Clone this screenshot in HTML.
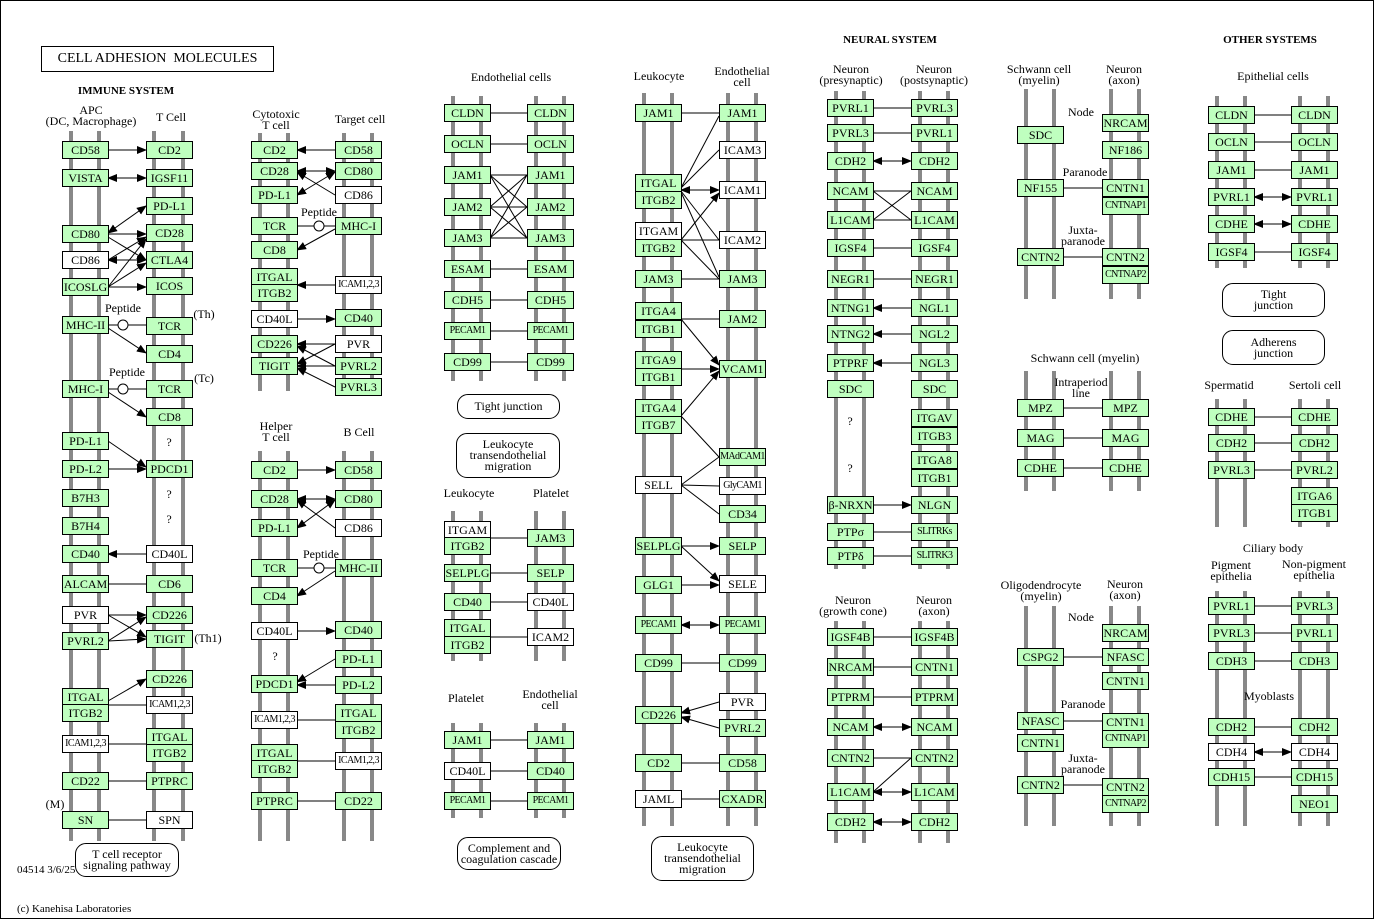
<!DOCTYPE html>
<html><head><meta charset="utf-8"><style>
body{margin:0;background:#fff}
#c{position:relative;width:1372px;height:917px;border:1px solid #000;overflow:hidden;font-family:"Liberation Serif",serif;color:#000}
svg{position:absolute;left:0;top:0}
.b{position:absolute;box-sizing:border-box;width:47px;height:18px;border:1px solid #000;background:#bfffbf;font-size:12px;line-height:16px;text-align:center;white-space:nowrap;overflow:hidden}
.w{background:#fff}
.s{font-size:10px;letter-spacing:-0.6px}
.t{position:absolute;font-size:12px;text-align:center;line-height:11px;white-space:nowrap;transform:translateX(-50%)}
.h{position:absolute;font-size:11px;font-weight:bold;white-space:nowrap;transform:translateX(-50%)}
.r{position:absolute;box-sizing:border-box;border:1px solid #000;border-radius:11px;background:#fff;font-size:12px;line-height:11px;text-align:center;display:flex;align-items:center;justify-content:center}
</style></head><body><div id="c">
<svg width="1374" height="919">
<defs><marker id="a" markerWidth="10" markerHeight="8" refX="9" refY="4" orient="auto" markerUnits="userSpaceOnUse"><path d="M0,0L10,4L0,8z"/></marker>
<marker id="s" markerWidth="10" markerHeight="8" refX="1" refY="4" orient="auto" markerUnits="userSpaceOnUse"><path d="M10,0L0,4L10,8z"/></marker></defs>
<g fill="#888">
<rect x="68" y="130" width="4" height="710"/><rect x="96" y="130" width="4" height="710"/><rect x="151" y="130" width="4" height="710"/><rect x="180" y="130" width="4" height="710"/>
<rect x="257" y="132" width="4" height="258"/><rect x="285" y="132" width="4" height="258"/><rect x="341" y="132" width="4" height="258"/><rect x="369" y="132" width="4" height="258"/>
<rect x="257" y="450" width="4" height="390"/><rect x="285" y="450" width="4" height="390"/><rect x="341" y="450" width="4" height="390"/><rect x="369" y="450" width="4" height="390"/>
<rect x="450" y="95" width="4" height="285"/><rect x="478" y="95" width="4" height="285"/><rect x="533" y="95" width="4" height="285"/><rect x="561" y="95" width="4" height="285"/>
<rect x="450" y="510" width="4" height="150"/><rect x="478" y="510" width="4" height="150"/><rect x="533" y="510" width="4" height="150"/><rect x="561" y="510" width="4" height="150"/>
<rect x="450" y="722" width="4" height="95"/><rect x="478" y="722" width="4" height="95"/><rect x="533" y="722" width="4" height="95"/><rect x="561" y="722" width="4" height="95"/>
<rect x="641" y="92" width="4" height="733"/><rect x="669" y="92" width="4" height="733"/><rect x="725" y="92" width="4" height="733"/><rect x="753" y="92" width="4" height="733"/>
<rect x="833" y="90" width="4" height="478"/><rect x="861" y="90" width="4" height="478"/><rect x="917" y="90" width="4" height="478"/><rect x="945" y="90" width="4" height="478"/>
<rect x="833" y="620" width="4" height="222"/><rect x="861" y="620" width="4" height="222"/><rect x="917" y="620" width="4" height="222"/><rect x="945" y="620" width="4" height="222"/>
<rect x="1023" y="88" width="4" height="210"/><rect x="1051" y="88" width="4" height="210"/><rect x="1108" y="88" width="4" height="210"/><rect x="1136" y="88" width="4" height="210"/>
<rect x="1023" y="370" width="4" height="120"/><rect x="1051" y="370" width="4" height="120"/><rect x="1108" y="370" width="4" height="120"/><rect x="1136" y="370" width="4" height="120"/>
<rect x="1023" y="605" width="4" height="220"/><rect x="1051" y="605" width="4" height="220"/><rect x="1108" y="605" width="4" height="220"/><rect x="1136" y="605" width="4" height="220"/>
<rect x="1214" y="95" width="4" height="172"/><rect x="1242" y="95" width="4" height="172"/><rect x="1297" y="95" width="4" height="172"/><rect x="1325" y="95" width="4" height="172"/>
<rect x="1214" y="398" width="4" height="128"/><rect x="1242" y="398" width="4" height="128"/><rect x="1297" y="398" width="4" height="128"/><rect x="1325" y="398" width="4" height="128"/>
<rect x="1214" y="590" width="4" height="235"/><rect x="1242" y="590" width="4" height="235"/><rect x="1297" y="590" width="4" height="235"/><rect x="1325" y="590" width="4" height="235"/>
</g>
<g stroke="#000" stroke-width="1" fill="none">
<!-- A -->
<line x1="107" y1="149" x2="145" y2="149" marker-end="url(#a)"/>
<line x1="107" y1="177" x2="145" y2="177" marker-end="url(#a)" marker-start="url(#s)"/>
<line x1="107" y1="232" x2="145" y2="205" marker-end="url(#a)" marker-start="url(#s)"/>
<line x1="107" y1="233" x2="145" y2="233" marker-end="url(#a)"/>
<line x1="107" y1="236" x2="145" y2="259" marker-end="url(#a)"/>
<line x1="107" y1="259" x2="145" y2="236" marker-end="url(#a)"/>
<line x1="107" y1="259" x2="145" y2="259" marker-end="url(#a)" marker-start="url(#s)"/>
<line x1="107" y1="286" x2="145" y2="238" marker-end="url(#a)"/>
<line x1="107" y1="286" x2="145" y2="262" marker-end="url(#a)"/>
<line x1="107" y1="286" x2="145" y2="286" marker-end="url(#a)"/>
<line x1="107" y1="324" x2="145" y2="324"/><line x1="107" y1="327" x2="145" y2="352" marker-end="url(#a)"/>
<line x1="107" y1="388" x2="145" y2="388"/><line x1="107" y1="391" x2="145" y2="416" marker-end="url(#a)"/>
<line x1="107" y1="440" x2="145" y2="466" marker-end="url(#a)"/><line x1="107" y1="468" x2="145" y2="468" marker-end="url(#a)"/>
<line x1="145" y1="553" x2="107" y2="553" marker-end="url(#a)"/>
<line x1="107" y1="583" x2="145" y2="583"/>
<line x1="107" y1="614" x2="145" y2="614" marker-end="url(#a)"/><line x1="107" y1="614" x2="145" y2="636" marker-end="url(#a)"/>
<line x1="107" y1="640" x2="145" y2="616" marker-end="url(#a)"/><line x1="107" y1="640" x2="145" y2="638" marker-end="url(#a)"/>
<line x1="107" y1="700" x2="145" y2="678" marker-end="url(#a)"/><line x1="107" y1="704" x2="145" y2="704"/>
<line x1="107" y1="743" x2="145" y2="743"/><line x1="107" y1="780" x2="145" y2="780"/><line x1="107" y1="819" x2="145" y2="819"/>
<!-- B -->
<line x1="334" y1="149" x2="296" y2="149" marker-end="url(#a)"/>
<line x1="296" y1="170" x2="334" y2="170" marker-end="url(#a)" marker-start="url(#s)"/>
<line x1="296" y1="194" x2="334" y2="171" marker-end="url(#a)" marker-start="url(#s)"/>
<line x1="296" y1="171" x2="334" y2="194" marker-start="url(#s)"/>
<line x1="296" y1="225" x2="334" y2="225"/><line x1="334" y1="228" x2="296" y2="249" marker-end="url(#a)"/>
<line x1="334" y1="284" x2="296" y2="284" marker-end="url(#a)"/>
<line x1="296" y1="318" x2="334" y2="318" marker-end="url(#a)"/>
<line x1="334" y1="343" x2="296" y2="343" marker-end="url(#a)"/><line x1="334" y1="343" x2="296" y2="363" marker-end="url(#a)"/>
<line x1="334" y1="365" x2="296" y2="345" marker-end="url(#a)"/><line x1="334" y1="365" x2="296" y2="365" marker-end="url(#a)"/><line x1="334" y1="386" x2="296" y2="367" marker-end="url(#a)"/>
<line x1="296" y1="469" x2="334" y2="469" marker-end="url(#a)"/>
<line x1="296" y1="498" x2="334" y2="498" marker-end="url(#a)" marker-start="url(#s)"/>
<line x1="296" y1="527" x2="334" y2="499" marker-end="url(#a)" marker-start="url(#s)"/>
<line x1="296" y1="499" x2="334" y2="527" marker-start="url(#s)"/>
<line x1="296" y1="567" x2="334" y2="567"/><line x1="334" y1="570" x2="296" y2="595" marker-end="url(#a)"/>
<line x1="296" y1="630" x2="334" y2="630" marker-end="url(#a)"/>
<line x1="334" y1="658" x2="296" y2="681" marker-end="url(#a)"/><line x1="334" y1="684" x2="296" y2="684" marker-end="url(#a)"/>
<line x1="296" y1="719" x2="334" y2="719"/><line x1="296" y1="760" x2="334" y2="760"/><line x1="296" y1="800" x2="334" y2="800"/>
<!-- C -->
<line x1="489" y1="112" x2="526" y2="112"/><line x1="489" y1="143" x2="526" y2="143"/>
<line x1="489" y1="174" x2="526" y2="174"/><line x1="489" y1="174" x2="526" y2="206"/><line x1="489" y1="174" x2="526" y2="237"/>
<line x1="489" y1="206" x2="526" y2="174"/><line x1="489" y1="206" x2="526" y2="206"/><line x1="489" y1="206" x2="526" y2="237"/>
<line x1="489" y1="237" x2="526" y2="174"/><line x1="489" y1="237" x2="526" y2="206"/><line x1="489" y1="237" x2="526" y2="237"/>
<line x1="489" y1="268" x2="526" y2="268"/><line x1="489" y1="299" x2="526" y2="299"/><line x1="489" y1="330" x2="526" y2="330"/><line x1="489" y1="361" x2="526" y2="361"/>
<line x1="489" y1="537" x2="526" y2="537"/><line x1="489" y1="572" x2="526" y2="572"/><line x1="489" y1="601" x2="526" y2="601"/><line x1="489" y1="636" x2="526" y2="636"/>
<line x1="489" y1="739" x2="526" y2="739"/><line x1="489" y1="770" x2="526" y2="770"/><line x1="489" y1="800" x2="526" y2="800"/>
<!-- D -->
<line x1="680" y1="112" x2="718" y2="112"/>
<line x1="680" y1="187" x2="718" y2="115"/><line x1="680" y1="187" x2="718" y2="149"/>
<line x1="680" y1="189" x2="718" y2="189" marker-end="url(#a)" marker-start="url(#s)"/>
<line x1="680" y1="190" x2="718" y2="239"/><line x1="680" y1="191" x2="718" y2="276"/>
<line x1="680" y1="239" x2="718" y2="192" marker-end="url(#a)"/><line x1="680" y1="239" x2="718" y2="239"/><line x1="680" y1="239" x2="718" y2="278"/>
<line x1="680" y1="278" x2="718" y2="278"/>
<line x1="680" y1="318" x2="718" y2="318"/><line x1="680" y1="318" x2="718" y2="364" marker-end="url(#a)"/>
<line x1="680" y1="368" x2="718" y2="368" marker-end="url(#a)"/>
<line x1="680" y1="415" x2="718" y2="370" marker-end="url(#a)"/><line x1="680" y1="415" x2="718" y2="456"/>
<line x1="680" y1="484" x2="718" y2="456"/><line x1="680" y1="484" x2="718" y2="485"/><line x1="680" y1="484" x2="718" y2="513"/>
<line x1="680" y1="545" x2="718" y2="545" marker-end="url(#a)"/><line x1="680" y1="545" x2="718" y2="580" marker-end="url(#a)"/>
<line x1="680" y1="584" x2="718" y2="584" marker-end="url(#a)"/>
<line x1="680" y1="624" x2="718" y2="624" marker-end="url(#a)" marker-start="url(#s)"/>
<line x1="680" y1="662" x2="718" y2="662"/>
<line x1="718" y1="701" x2="680" y2="712" marker-end="url(#a)"/><line x1="718" y1="727" x2="680" y2="716" marker-end="url(#a)"/>
<line x1="680" y1="762" x2="718" y2="762"/><line x1="680" y1="798" x2="718" y2="798"/>
<!-- E -->
<line x1="872" y1="107" x2="910" y2="107"/><line x1="872" y1="132" x2="910" y2="132"/>
<line x1="872" y1="160" x2="910" y2="160" marker-end="url(#a)" marker-start="url(#s)"/>
<line x1="872" y1="190" x2="910" y2="190"/><line x1="872" y1="190" x2="910" y2="219"/><line x1="872" y1="219" x2="910" y2="190"/><line x1="872" y1="219" x2="910" y2="219"/>
<line x1="872" y1="247" x2="910" y2="247"/><line x1="872" y1="278" x2="910" y2="278"/>
<line x1="910" y1="307" x2="872" y2="307" marker-end="url(#a)"/><line x1="910" y1="333" x2="872" y2="333" marker-end="url(#a)"/><line x1="910" y1="362" x2="872" y2="362" marker-end="url(#a)"/>
<line x1="872" y1="504" x2="910" y2="504" marker-end="url(#a)"/><line x1="872" y1="531" x2="910" y2="531"/><line x1="872" y1="555" x2="910" y2="555"/>
<line x1="872" y1="636" x2="910" y2="636"/><line x1="872" y1="666" x2="910" y2="666"/><line x1="872" y1="696" x2="910" y2="696"/>
<line x1="872" y1="726" x2="910" y2="726" marker-end="url(#a)" marker-start="url(#s)"/>
<line x1="872" y1="757" x2="910" y2="757"/>
<line x1="872" y1="791" x2="910" y2="791" marker-end="url(#a)" marker-start="url(#s)"/><line x1="872" y1="791" x2="910" y2="757"/>
<line x1="872" y1="821" x2="910" y2="821" marker-end="url(#a)" marker-start="url(#s)"/>
<!-- F -->
<line x1="1062" y1="187" x2="1101" y2="187"/><line x1="1062" y1="256" x2="1101" y2="256"/>
<line x1="1062" y1="407" x2="1101" y2="407"/><line x1="1062" y1="437" x2="1101" y2="437"/><line x1="1062" y1="467" x2="1101" y2="467"/>
<line x1="1062" y1="656" x2="1101" y2="656"/><line x1="1062" y1="720" x2="1101" y2="720"/><line x1="1062" y1="784" x2="1101" y2="784"/>
<!-- G -->
<line x1="1253" y1="114" x2="1290" y2="114"/><line x1="1253" y1="141" x2="1290" y2="141"/><line x1="1253" y1="169" x2="1290" y2="169"/>
<line x1="1253" y1="196" x2="1290" y2="196" marker-end="url(#a)" marker-start="url(#s)"/>
<line x1="1253" y1="223" x2="1290" y2="223" marker-end="url(#a)" marker-start="url(#s)"/>
<line x1="1253" y1="251" x2="1290" y2="251"/>
<line x1="1253" y1="416" x2="1290" y2="416"/><line x1="1253" y1="442" x2="1290" y2="442"/><line x1="1253" y1="469" x2="1290" y2="469"/>
<line x1="1253" y1="605" x2="1290" y2="605"/><line x1="1253" y1="632" x2="1290" y2="632"/><line x1="1253" y1="660" x2="1290" y2="660"/>
<line x1="1253" y1="726" x2="1290" y2="726"/><line x1="1253" y1="751" x2="1290" y2="751" marker-end="url(#a)" marker-start="url(#s)"/><line x1="1253" y1="776" x2="1290" y2="776"/>
</g>
<g fill="#fff" stroke="#000"><circle cx="122" cy="324" r="5"/><circle cx="122" cy="388" r="5"/><circle cx="318" cy="225" r="5"/><circle cx="318" cy="567" r="5"/></g>
</svg>
<div style="position:absolute;left:40px;top:45px;width:233px;height:26px;box-sizing:border-box;border:1px solid #000;font-size:14px;line-height:24px;text-align:center">CELL ADHESION&nbsp; MOLECULES</div>
<div class="h" style="left:125px;top:84px">IMMUNE SYSTEM</div>
<div class="h" style="left:889px;top:33px">NEURAL SYSTEM</div>
<div class="h" style="left:1269px;top:33px">OTHER SYSTEMS</div>
<div class="t" style="left:90px;top:104px">APC<br>(DC, Macrophage)</div>
<div class="t" style="left:170px;top:111px">T Cell</div>
<div class="t" style="left:122px;top:302px">Peptide</div><div class="t" style="left:203px;top:308px">(Th)</div>
<div class="t" style="left:126px;top:366px">Peptide</div><div class="t" style="left:203px;top:372px">(Tc)</div>
<div class="t" style="left:168px;top:436px">?</div><div class="t" style="left:168px;top:488px">?</div><div class="t" style="left:168px;top:513px">?</div>
<div class="t" style="left:207px;top:632px">(Th1)</div><div class="t" style="left:54px;top:798px">(M)</div>
<div class="r" style="left:74px;top:842px;width:104px;height:34px">T cell receptor<br>signaling pathway</div>
<div class="t" style="left:275px;top:108px">Cytotoxic<br>T cell</div><div class="t" style="left:359px;top:113px">Target cell</div>
<div class="t" style="left:318px;top:206px">Peptide</div>
<div class="t" style="left:275px;top:420px">Helper<br>T cell</div><div class="t" style="left:358px;top:426px">B Cell</div>
<div class="t" style="left:320px;top:548px">Peptide</div><div class="t" style="left:274px;top:650px">?</div>
<div class="t" style="left:510px;top:71px">Endothelial cells</div>
<div class="r" style="left:456px;top:393px;width:103px;height:25px">Tight junction</div>
<div class="r" style="left:455px;top:432px;width:104px;height:45px">Leukocyte<br>transendothelial<br>migration</div>
<div class="t" style="left:468px;top:487px">Leukocyte</div><div class="t" style="left:550px;top:487px">Platelet</div>
<div class="t" style="left:465px;top:692px">Platelet</div><div class="t" style="left:549px;top:688px">Endothelial<br>cell</div>
<div class="r" style="left:456px;top:836px;width:104px;height:33px">Complement and<br>coagulation cascade</div>
<div class="t" style="left:658px;top:70px">Leukocyte</div><div class="t" style="left:741px;top:65px">Endothelial<br>cell</div>
<div class="r" style="left:650px;top:835px;width:103px;height:45px">Leukocyte<br>transendothelial<br>migration</div>
<div class="t" style="left:850px;top:63px">Neuron<br>(presynaptic)</div><div class="t" style="left:933px;top:63px">Neuron<br>(postsynaptic)</div>
<div class="t" style="left:849px;top:415px">?</div><div class="t" style="left:849px;top:462px">?</div>
<div class="t" style="left:852px;top:594px">Neuron<br>(growth cone)</div><div class="t" style="left:933px;top:594px">Neuron<br>(axon)</div>
<div class="t" style="left:1038px;top:63px">Schwann cell<br>(myelin)</div><div class="t" style="left:1123px;top:63px">Neuron<br>(axon)</div>
<div class="t" style="left:1080px;top:106px">Node</div><div class="t" style="left:1084px;top:166px">Paranode</div><div class="t" style="left:1082px;top:224px">Juxta-<br>paranode</div>
<div class="t" style="left:1084px;top:352px">Schwann cell (myelin)</div><div class="t" style="left:1080px;top:376px">Intraperiod<br>line</div>
<div class="t" style="left:1040px;top:579px">Oligodendrocyte<br>(myelin)</div><div class="t" style="left:1124px;top:578px">Neuron<br>(axon)</div>
<div class="t" style="left:1080px;top:611px">Node</div><div class="t" style="left:1082px;top:698px">Paranode</div><div class="t" style="left:1082px;top:752px">Juxta-<br>paranode</div>
<div class="t" style="left:1272px;top:70px">Epithelial cells</div>
<div class="r" style="left:1221px;top:282px;width:103px;height:34px">Tight<br>junction</div>
<div class="r" style="left:1221px;top:329px;width:103px;height:35px">Adherens<br>junction</div>
<div class="t" style="left:1228px;top:379px">Spermatid</div><div class="t" style="left:1314px;top:379px">Sertoli cell</div>
<div class="t" style="left:1272px;top:542px">Ciliary body</div><div class="t" style="left:1230px;top:559px">Pigment<br>epithelia</div><div class="t" style="left:1313px;top:558px">Non-pigment<br>epithelia</div>
<div class="t" style="left:1268px;top:690px">Myoblasts</div>
<div style="position:absolute;left:16px;top:864px;font-size:11px;line-height:11px">04514 3/6/25</div>
<div style="position:absolute;left:16px;top:903px;font-size:11px;line-height:11px">(c) Kanehisa Laboratories</div>

<!-- A boxes -->
<div class="b" style="left:61px;top:140px">CD58</div><div class="b" style="left:145px;top:140px">CD2</div>
<div class="b" style="left:61px;top:168px">VISTA</div><div class="b" style="left:145px;top:168px">IGSF11</div>
<div class="b" style="left:145px;top:196px">PD-L1</div>
<div class="b" style="left:61px;top:224px">CD80</div><div class="b" style="left:145px;top:223px">CD28</div>
<div class="b w" style="left:61px;top:250px">CD86</div><div class="b" style="left:145px;top:250px">CTLA4</div>
<div class="b" style="left:61px;top:277px">ICOSLG</div><div class="b" style="left:145px;top:276px">ICOS</div>
<div class="b" style="left:61px;top:315px">MHC-II</div><div class="b" style="left:145px;top:316px">TCR</div>
<div class="b" style="left:145px;top:344px">CD4</div>
<div class="b" style="left:61px;top:379px">MHC-I</div><div class="b" style="left:145px;top:379px">TCR</div>
<div class="b" style="left:145px;top:407px">CD8</div>
<div class="b" style="left:61px;top:431px">PD-L1</div>
<div class="b" style="left:61px;top:459px">PD-L2</div><div class="b" style="left:145px;top:459px">PDCD1</div>
<div class="b" style="left:61px;top:488px">B7H3</div><div class="b" style="left:61px;top:516px">B7H4</div>
<div class="b" style="left:61px;top:544px">CD40</div><div class="b w" style="left:145px;top:544px">CD40L</div>
<div class="b" style="left:61px;top:574px">ALCAM</div><div class="b" style="left:145px;top:574px">CD6</div>
<div class="b w" style="left:61px;top:605px">PVR</div><div class="b" style="left:145px;top:605px">CD226</div>
<div class="b" style="left:61px;top:631px">PVRL2</div><div class="b" style="left:145px;top:629px">TIGIT</div>
<div class="b" style="left:145px;top:669px">CD226</div>
<div class="b" style="left:61px;top:687px">ITGAL</div><div class="b" style="left:61px;top:703px">ITGB2</div><div class="b w s" style="left:145px;top:695px">ICAM1,2,3</div>
<div class="b w s" style="left:61px;top:734px">ICAM1,2,3</div><div class="b" style="left:145px;top:727px">ITGAL</div><div class="b" style="left:145px;top:743px">ITGB2</div>
<div class="b" style="left:61px;top:771px">CD22</div><div class="b" style="left:145px;top:771px">PTPRC</div>
<div class="b" style="left:61px;top:810px">SN</div><div class="b w" style="left:145px;top:810px">SPN</div>
<!-- B boxes -->
<div class="b" style="left:250px;top:140px">CD2</div><div class="b" style="left:334px;top:140px">CD58</div>
<div class="b" style="left:250px;top:161px">CD28</div><div class="b" style="left:334px;top:161px">CD80</div>
<div class="b" style="left:250px;top:185px">PD-L1</div><div class="b w" style="left:334px;top:185px">CD86</div>
<div class="b" style="left:250px;top:216px">TCR</div><div class="b" style="left:334px;top:216px">MHC-I</div>
<div class="b" style="left:250px;top:240px">CD8</div>
<div class="b" style="left:250px;top:267px">ITGAL</div><div class="b" style="left:250px;top:283px">ITGB2</div><div class="b w s" style="left:334px;top:275px">ICAM1,2,3</div>
<div class="b w" style="left:250px;top:309px">CD40L</div><div class="b" style="left:334px;top:308px">CD40</div>
<div class="b" style="left:250px;top:334px">CD226</div><div class="b w" style="left:334px;top:334px">PVR</div>
<div class="b" style="left:250px;top:356px">TIGIT</div><div class="b" style="left:334px;top:356px">PVRL2</div><div class="b" style="left:334px;top:377px">PVRL3</div>
<div class="b" style="left:250px;top:460px">CD2</div><div class="b" style="left:334px;top:460px">CD58</div>
<div class="b" style="left:250px;top:489px">CD28</div><div class="b" style="left:334px;top:489px">CD80</div>
<div class="b" style="left:250px;top:518px">PD-L1</div><div class="b w" style="left:334px;top:518px">CD86</div>
<div class="b" style="left:250px;top:558px">TCR</div><div class="b" style="left:334px;top:558px">MHC-II</div>
<div class="b" style="left:250px;top:586px">CD4</div>
<div class="b w" style="left:250px;top:621px">CD40L</div><div class="b" style="left:334px;top:620px">CD40</div>
<div class="b" style="left:334px;top:649px">PD-L1</div>
<div class="b" style="left:250px;top:674px">PDCD1</div><div class="b" style="left:334px;top:675px">PD-L2</div>
<div class="b w s" style="left:250px;top:710px">ICAM1,2,3</div><div class="b" style="left:334px;top:703px">ITGAL</div><div class="b" style="left:334px;top:720px">ITGB2</div>
<div class="b" style="left:250px;top:743px">ITGAL</div><div class="b" style="left:250px;top:759px">ITGB2</div><div class="b w s" style="left:334px;top:751px">ICAM1,2,3</div>
<div class="b" style="left:250px;top:791px">PTPRC</div><div class="b" style="left:334px;top:791px">CD22</div>
<!-- C boxes -->
<div class="b" style="left:443px;top:103px">CLDN</div><div class="b" style="left:526px;top:103px">CLDN</div>
<div class="b" style="left:443px;top:134px">OCLN</div><div class="b" style="left:526px;top:134px">OCLN</div>
<div class="b" style="left:443px;top:165px">JAM1</div><div class="b" style="left:526px;top:165px">JAM1</div>
<div class="b" style="left:443px;top:197px">JAM2</div><div class="b" style="left:526px;top:197px">JAM2</div>
<div class="b" style="left:443px;top:228px">JAM3</div><div class="b" style="left:526px;top:228px">JAM3</div>
<div class="b" style="left:443px;top:259px">ESAM</div><div class="b" style="left:526px;top:259px">ESAM</div>
<div class="b" style="left:443px;top:290px">CDH5</div><div class="b" style="left:526px;top:290px">CDH5</div>
<div class="b s" style="left:443px;top:321px">PECAM1</div><div class="b s" style="left:526px;top:321px">PECAM1</div>
<div class="b" style="left:443px;top:352px">CD99</div><div class="b" style="left:526px;top:352px">CD99</div>
<div class="b w" style="left:443px;top:520px">ITGAM</div><div class="b" style="left:443px;top:536px">ITGB2</div><div class="b" style="left:526px;top:528px">JAM3</div>
<div class="b" style="left:443px;top:563px">SELPLG</div><div class="b" style="left:526px;top:563px">SELP</div>
<div class="b" style="left:443px;top:592px">CD40</div><div class="b w" style="left:526px;top:592px">CD40L</div>
<div class="b" style="left:443px;top:618px">ITGAL</div><div class="b" style="left:443px;top:635px">ITGB2</div><div class="b w" style="left:526px;top:627px">ICAM2</div>
<div class="b" style="left:443px;top:730px">JAM1</div><div class="b" style="left:526px;top:730px">JAM1</div>
<div class="b w" style="left:443px;top:761px">CD40L</div><div class="b" style="left:526px;top:761px">CD40</div>
<div class="b s" style="left:443px;top:791px">PECAM1</div><div class="b s" style="left:526px;top:791px">PECAM1</div>
<!-- D boxes -->
<div class="b" style="left:634px;top:103px">JAM1</div><div class="b" style="left:718px;top:103px">JAM1</div>
<div class="b w" style="left:718px;top:140px">ICAM3</div>
<div class="b" style="left:634px;top:173px">ITGAL</div><div class="b" style="left:634px;top:190px">ITGB2</div><div class="b w" style="left:718px;top:180px">ICAM1</div>
<div class="b w" style="left:634px;top:221px">ITGAM</div><div class="b" style="left:634px;top:238px">ITGB2</div><div class="b w" style="left:718px;top:230px">ICAM2</div>
<div class="b" style="left:634px;top:269px">JAM3</div><div class="b" style="left:718px;top:269px">JAM3</div>
<div class="b" style="left:634px;top:301px">ITGA4</div><div class="b" style="left:634px;top:319px">ITGB1</div><div class="b" style="left:718px;top:309px">JAM2</div>
<div class="b" style="left:634px;top:350px">ITGA9</div><div class="b" style="left:634px;top:367px">ITGB1</div><div class="b" style="left:718px;top:359px">VCAM1</div>
<div class="b" style="left:634px;top:398px">ITGA4</div><div class="b" style="left:634px;top:415px">ITGB7</div>
<div class="b s" style="left:718px;top:447px">MAdCAM1</div>
<div class="b w" style="left:634px;top:475px">SELL</div><div class="b w s" style="left:718px;top:476px">GlyCAM1</div>
<div class="b" style="left:718px;top:504px">CD34</div>
<div class="b" style="left:634px;top:536px">SELPLG</div><div class="b" style="left:718px;top:536px">SELP</div>
<div class="b" style="left:634px;top:575px">GLG1</div><div class="b w" style="left:718px;top:574px">SELE</div>
<div class="b s" style="left:634px;top:615px">PECAM1</div><div class="b s" style="left:718px;top:615px">PECAM1</div>
<div class="b" style="left:634px;top:653px">CD99</div><div class="b" style="left:718px;top:653px">CD99</div>
<div class="b w" style="left:718px;top:692px">PVR</div><div class="b" style="left:634px;top:705px">CD226</div><div class="b" style="left:718px;top:718px">PVRL2</div>
<div class="b" style="left:634px;top:753px">CD2</div><div class="b" style="left:718px;top:753px">CD58</div>
<div class="b w" style="left:634px;top:789px">JAML</div><div class="b" style="left:718px;top:789px">CXADR</div>
<!-- E boxes -->
<div class="b" style="left:826px;top:98px">PVRL1</div><div class="b" style="left:910px;top:98px">PVRL3</div>
<div class="b" style="left:826px;top:123px">PVRL3</div><div class="b" style="left:910px;top:123px">PVRL1</div>
<div class="b" style="left:826px;top:151px">CDH2</div><div class="b" style="left:910px;top:151px">CDH2</div>
<div class="b" style="left:826px;top:181px">NCAM</div><div class="b" style="left:910px;top:181px">NCAM</div>
<div class="b" style="left:826px;top:210px">L1CAM</div><div class="b" style="left:910px;top:210px">L1CAM</div>
<div class="b" style="left:826px;top:238px">IGSF4</div><div class="b" style="left:910px;top:238px">IGSF4</div>
<div class="b" style="left:826px;top:269px">NEGR1</div><div class="b" style="left:910px;top:269px">NEGR1</div>
<div class="b" style="left:826px;top:298px">NTNG1</div><div class="b" style="left:910px;top:298px">NGL1</div>
<div class="b" style="left:826px;top:324px">NTNG2</div><div class="b" style="left:910px;top:324px">NGL2</div>
<div class="b" style="left:826px;top:353px">PTPRF</div><div class="b" style="left:910px;top:353px">NGL3</div>
<div class="b" style="left:826px;top:379px">SDC</div><div class="b" style="left:910px;top:379px">SDC</div>
<div class="b" style="left:910px;top:408px">ITGAV</div><div class="b" style="left:910px;top:426px">ITGB3</div>
<div class="b" style="left:910px;top:450px">ITGA8</div><div class="b" style="left:910px;top:468px">ITGB1</div>
<div class="b" style="left:826px;top:495px">β-NRXN</div><div class="b" style="left:910px;top:495px">NLGN</div>
<div class="b" style="left:826px;top:522px">PTPσ</div><div class="b s" style="left:910px;top:522px">SLITRKs</div>
<div class="b" style="left:826px;top:546px">PTPδ</div><div class="b s" style="left:910px;top:546px">SLITRK3</div>
<div class="b" style="left:826px;top:627px">IGSF4B</div><div class="b" style="left:910px;top:627px">IGSF4B</div>
<div class="b" style="left:826px;top:657px">NRCAM</div><div class="b" style="left:910px;top:657px">CNTN1</div>
<div class="b" style="left:826px;top:687px">PTPRM</div><div class="b" style="left:910px;top:687px">PTPRM</div>
<div class="b" style="left:826px;top:717px">NCAM</div><div class="b" style="left:910px;top:717px">NCAM</div>
<div class="b" style="left:826px;top:748px">CNTN2</div><div class="b" style="left:910px;top:748px">CNTN2</div>
<div class="b" style="left:826px;top:782px">L1CAM</div><div class="b" style="left:910px;top:782px">L1CAM</div>
<div class="b" style="left:826px;top:812px">CDH2</div><div class="b" style="left:910px;top:812px">CDH2</div>
<!-- F boxes -->
<div class="b" style="left:1101px;top:113px">NRCAM</div><div class="b" style="left:1016px;top:125px">SDC</div><div class="b" style="left:1101px;top:140px">NF186</div>
<div class="b" style="left:1016px;top:178px">NF155</div><div class="b" style="left:1101px;top:178px">CNTN1</div><div class="b s" style="left:1101px;top:196px">CNTNAP1</div>
<div class="b" style="left:1016px;top:247px">CNTN2</div><div class="b" style="left:1101px;top:247px">CNTN2</div><div class="b s" style="left:1101px;top:265px">CNTNAP2</div>
<div class="b" style="left:1016px;top:398px">MPZ</div><div class="b" style="left:1101px;top:398px">MPZ</div>
<div class="b" style="left:1016px;top:428px">MAG</div><div class="b" style="left:1101px;top:428px">MAG</div>
<div class="b" style="left:1016px;top:458px">CDHE</div><div class="b" style="left:1101px;top:458px">CDHE</div>
<div class="b" style="left:1101px;top:623px">NRCAM</div><div class="b" style="left:1016px;top:647px">CSPG2</div><div class="b" style="left:1101px;top:647px">NFASC</div><div class="b" style="left:1101px;top:671px">CNTN1</div>
<div class="b" style="left:1016px;top:711px">NFASC</div><div class="b" style="left:1016px;top:733px">CNTN1</div><div class="b" style="left:1101px;top:712px">CNTN1</div><div class="b s" style="left:1101px;top:729px">CNTNAP1</div>
<div class="b" style="left:1016px;top:775px">CNTN2</div><div class="b" style="left:1101px;top:777px">CNTN2</div><div class="b s" style="left:1101px;top:794px">CNTNAP2</div>
<!-- G boxes -->
<div class="b" style="left:1207px;top:105px">CLDN</div><div class="b" style="left:1290px;top:105px">CLDN</div>
<div class="b" style="left:1207px;top:132px">OCLN</div><div class="b" style="left:1290px;top:132px">OCLN</div>
<div class="b" style="left:1207px;top:160px">JAM1</div><div class="b" style="left:1290px;top:160px">JAM1</div>
<div class="b" style="left:1207px;top:187px">PVRL1</div><div class="b" style="left:1290px;top:187px">PVRL1</div>
<div class="b" style="left:1207px;top:214px">CDHE</div><div class="b" style="left:1290px;top:214px">CDHE</div>
<div class="b" style="left:1207px;top:242px">IGSF4</div><div class="b" style="left:1290px;top:242px">IGSF4</div>
<div class="b" style="left:1207px;top:407px">CDHE</div><div class="b" style="left:1290px;top:407px">CDHE</div>
<div class="b" style="left:1207px;top:433px">CDH2</div><div class="b" style="left:1290px;top:433px">CDH2</div>
<div class="b" style="left:1207px;top:460px">PVRL3</div><div class="b" style="left:1290px;top:460px">PVRL2</div>
<div class="b" style="left:1290px;top:486px">ITGA6</div><div class="b" style="left:1290px;top:503px">ITGB1</div>
<div class="b" style="left:1207px;top:596px">PVRL1</div><div class="b" style="left:1290px;top:596px">PVRL3</div>
<div class="b" style="left:1207px;top:623px">PVRL3</div><div class="b" style="left:1290px;top:623px">PVRL1</div>
<div class="b" style="left:1207px;top:651px">CDH3</div><div class="b" style="left:1290px;top:651px">CDH3</div>
<div class="b" style="left:1207px;top:717px">CDH2</div><div class="b" style="left:1290px;top:717px">CDH2</div>
<div class="b w" style="left:1207px;top:742px">CDH4</div><div class="b w" style="left:1290px;top:742px">CDH4</div>
<div class="b" style="left:1207px;top:767px">CDH15</div><div class="b" style="left:1290px;top:767px">CDH15</div>
<div class="b" style="left:1290px;top:794px">NEO1</div>
</div></body></html>
